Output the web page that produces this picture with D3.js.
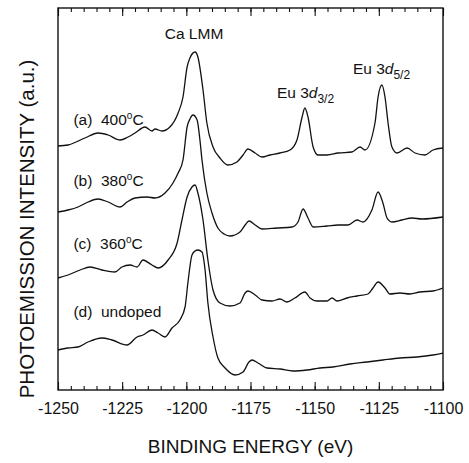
<!DOCTYPE html>
<html>
<head>
<meta charset="utf-8">
<script src="https://cdn.jsdelivr.net/npm/d3@7"></script>
<style>
  body { margin: 0; background: #fff; }
  text { font-family: "Liberation Sans", Arial, sans-serif; fill: #111; }
</style>
</head>
<body>
<script>
const width = 469;
const height = 463;
const margin = {top: 8, right: 26, bottom: 73, left: 58};

// x domain and tick values
const xDomain = [-1250, -1100];
const majorTicks = [-1250, -1225, -1200, -1175, -1150, -1125, -1100];
const minorTicks = d3.range(-1250, -1099, 5);

// spectra: [binding energy (eV), intensity (a.u., offset already applied)]
const curve400 = [
  [-1250, 244], [-1246.1, 245], [-1239.5, 252], [-1234.4, 257], [-1230.5, 255], [-1225.8, 250],
  [-1222.7, 253], [-1220.0, 257], [-1216.1, 263], [-1213.4, 259], [-1212.2, 261], [-1209.5, 259],
  [-1206.4, 263], [-1203.2, 277], [-1201.3, 293], [-1199.7, 323], [-1198.6, 332], [-1196.6, 338],
  [-1195.5, 333], [-1193.5, 300], [-1192.0, 267], [-1189.6, 243], [-1186.9, 232], [-1183.8, 225],
  [-1180.3, 228], [-1177.9, 235], [-1176.0, 241], [-1173.2, 237], [-1170.5, 233], [-1167.4, 235],
  [-1163.5, 237], [-1159.6, 240], [-1156.9, 250], [-1154.9, 273], [-1153.8, 282], [-1152.6, 273],
  [-1150.6, 243], [-1148.7, 235], [-1145.2, 235], [-1140.9, 237], [-1135.5, 238], [-1132.3, 243],
  [-1130.4, 240], [-1126.5, 267], [-1125.3, 293], [-1123.8, 305], [-1122.6, 293], [-1121.4, 267],
  [-1119.9, 243], [-1117.9, 237], [-1114.0, 242], [-1110.9, 237], [-1107.0, 235], [-1103.9, 240],
  [-1100, 242]
];
const curve380 = [
  [-1250, 178], [-1246.1, 180], [-1242.2, 183], [-1238.3, 188], [-1234.4, 191], [-1230.5, 188],
  [-1225.8, 183], [-1223.1, 188], [-1220.0, 192], [-1215.3, 193], [-1212.2, 192], [-1208.3, 197],
  [-1205.2, 207], [-1203.2, 217], [-1201.3, 230], [-1199.7, 263], [-1198.6, 271], [-1197.4, 275],
  [-1195.8, 270], [-1194.7, 250], [-1193.9, 230], [-1192.0, 197], [-1190.0, 177], [-1187.7, 162],
  [-1185.3, 156], [-1183.0, 154], [-1179.1, 158], [-1177.1, 165], [-1175.6, 169], [-1173.2, 165],
  [-1170.5, 161], [-1164.7, 162], [-1158.8, 163], [-1156.5, 168], [-1154.5, 181], [-1152.6, 172],
  [-1150.6, 163], [-1145.2, 164], [-1140.9, 165], [-1137.0, 165], [-1133.5, 170], [-1131.2, 168],
  [-1127.7, 180], [-1125.3, 198], [-1123.4, 187], [-1121.8, 172], [-1119.9, 168], [-1116.0, 170],
  [-1112.1, 172], [-1108.2, 171], [-1100, 173]
];
const curve360 = [
  [-1250, 112], [-1246.1, 115], [-1241.4, 120], [-1237.5, 123], [-1232.9, 120], [-1227.8, 118],
  [-1225.1, 123], [-1221.9, 125], [-1219.2, 123], [-1216.9, 130], [-1213.4, 125], [-1211.0, 122],
  [-1207.1, 130], [-1203.6, 147], [-1201.7, 170], [-1199.7, 193], [-1197.8, 203], [-1196.6, 205],
  [-1195.5, 197], [-1193.5, 170], [-1191.6, 130], [-1189.6, 100], [-1186.9, 87], [-1183.0, 84],
  [-1179.1, 87], [-1177.1, 97], [-1176.0, 99], [-1173.2, 95], [-1170.5, 90], [-1166.6, 89],
  [-1163.5, 91], [-1160.8, 88], [-1157.7, 92], [-1153.8, 98], [-1151.8, 92], [-1149.1, 89],
  [-1145.2, 89], [-1143.2, 92], [-1141.3, 89], [-1137.4, 92], [-1133.5, 94], [-1129.2, 96],
  [-1127.3, 102], [-1125.3, 108], [-1122.6, 102], [-1120.7, 96], [-1116.8, 97], [-1112.9, 96],
  [-1109.0, 98], [-1103.9, 99], [-1100, 102]
];
const curveUndoped = [
  [-1250, 40], [-1246.1, 42], [-1242.2, 43], [-1238.3, 48], [-1232.9, 52], [-1229.0, 50],
  [-1223.1, 45], [-1219.2, 53], [-1216.9, 55], [-1213.4, 60], [-1211.0, 57], [-1208.3, 53],
  [-1205.6, 62], [-1202.5, 70], [-1200.5, 83], [-1199.4, 107], [-1197.8, 135], [-1196.6, 139],
  [-1195.5, 140], [-1193.9, 138], [-1192.7, 120], [-1191.6, 87], [-1189.6, 53], [-1187.7, 32],
  [-1184.9, 22], [-1181.0, 15], [-1177.9, 18], [-1175.6, 28], [-1174.4, 30], [-1172.1, 27],
  [-1168.6, 22], [-1163.5, 21], [-1158.4, 19], [-1153.0, 20], [-1147.9, 22], [-1142.9, 23],
  [-1136.2, 26], [-1129.6, 28], [-1123.4, 30], [-1116.8, 32], [-1110.1, 33], [-1103.9, 35],
  [-1100, 37]
];

const series = [curve400, curve380, curve360, curveUndoped];

// curve labels: [letter, text, superscript, trailing, energy, intensity]
const curveLabels = [
  ["(a)", "400", "o", "C", -1244, 265],
  ["(b)", "380", "o", "C", -1244, 204],
  ["(c)", "360", "o", "C", -1244, 141],
  ["(d)", "undoped", "", "", -1244, 73]
];

const svg = d3.select("body").append("svg")
  .attr("width", width)
  .attr("height", height);

const x = d3.scaleLinear().domain(xDomain).range([margin.left, width - margin.right]);
const y = d3.scaleLinear().domain([0, 382]).range([height - margin.bottom, margin.top]);

const line = d3.line()
  .x(d => x(d[0]))
  .y(d => y(d[1]))
  .curve(d3.curveMonotoneX);

svg.append("g")
  .selectAll("path")
  .data(series)
  .enter()
  .append("path")
  .attr("d", line)
  .style("fill", "none")
  .style("stroke", "#111")
  .style("stroke-width", 1.3);

// minor + major ticks, bottom and top, pointing inward
const yBottom = height - margin.bottom;
const yTop = margin.top;

svg.append("g")
  .attr("transform", `translate(0,${yBottom})`)
  .call(d3.axisBottom(x).tickValues(minorTicks).tickSize(-4).tickFormat(""))
  .call(g => g.select(".domain").remove());

svg.append("g")
  .attr("class", "xaxis")
  .attr("transform", `translate(0,${yBottom})`)
  .call(d3.axisBottom(x).tickValues(majorTicks).tickSize(-8).tickPadding(13).tickFormat(d => String(d)))
  .call(g => g.select(".domain").remove());

svg.append("g")
  .attr("transform", `translate(0,${yTop})`)
  .call(d3.axisTop(x).tickValues(minorTicks).tickSize(-4).tickFormat(""))
  .call(g => g.select(".domain").remove());

svg.append("g")
  .attr("transform", `translate(0,${yTop})`)
  .call(d3.axisTop(x).tickValues(majorTicks).tickSize(-8).tickFormat(""))
  .call(g => g.select(".domain").remove());

svg.selectAll(".tick line").style("stroke", "#111").style("stroke-width", 1.1);
svg.selectAll(".xaxis text")
  .style("font-size", "16px")
  .style("font-family", "'Liberation Sans', Arial, sans-serif")
  .style("fill", "#111");

// frame
svg.append("rect")
  .attr("x", margin.left)
  .attr("y", margin.top)
  .attr("width", width - margin.left - margin.right)
  .attr("height", height - margin.top - margin.bottom)
  .style("fill", "none")
  .style("stroke", "#111")
  .style("stroke-width", 1.4);

// axis titles
svg.append("text")
  .attr("x", (margin.left + width - margin.right) / 2)
  .attr("y", 453)
  .attr("text-anchor", "middle")
  .style("font-size", "19px")
  .text("BINDING ENERGY (eV)");

svg.append("text")
  .attr("transform", `translate(34,229) rotate(-90)`)
  .attr("text-anchor", "middle")
  .style("font-size", "20.5px")
  .text("PHOTOEMISSION INTENSITY (a.u.)");

// peak labels
svg.append("text")
  .attr("x", x(-1197))
  .attr("y", 39)
  .attr("text-anchor", "middle")
  .style("font-size", "15.5px")
  .text("Ca LMM");

const peak = (e, yy, sub) => {
  const t = svg.append("text")
    .attr("x", x(e))
    .attr("y", yy)
    .style("font-size", "15.5px");
  t.append("tspan").text("Eu 3");
  t.append("tspan").style("font-style", "italic").text("d");
  t.append("tspan").attr("dy", 5).style("font-size", "12px").text(sub);
};
peak(-1164.7, 98, "3/2");
peak(-1135.1, 74, "5/2");

// curve labels
curveLabels.forEach(d => {
  const t = svg.append("text")
    .attr("x", x(d[4]))
    .attr("y", y(d[5]))
    .style("font-size", "15.5px");
  t.append("tspan").text(d[0] + "\u00a0\u00a0" + d[1]);
  if (d[2]) {
    t.append("tspan").attr("dy", -6).style("font-size", "10px").text(d[2]);
    t.append("tspan").attr("dy", 6).text(d[3]);
  }
});
</script>
</body>
</html>
